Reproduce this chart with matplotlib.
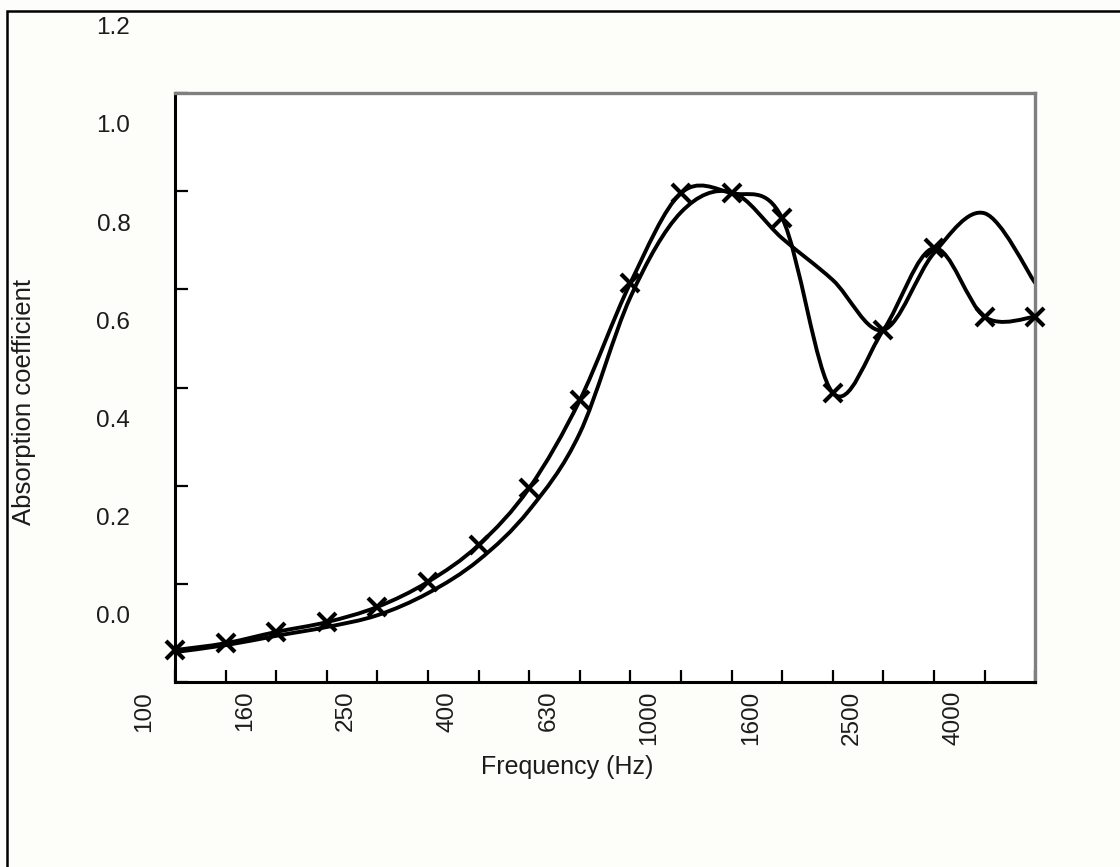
import numpy as np
import matplotlib
matplotlib.use("Agg")
import matplotlib.pyplot as plt
from matplotlib.path import Path
from matplotlib.patches import PathPatch, Rectangle
import matplotlib.transforms as mtransforms

plt.rcParams['font.family'] = ['Liberation Sans', 'DejaVu Sans']

# third-octave bands (Hz)
freqs = [100, 125, 160, 200, 250, 315, 400, 500, 630, 800,
         1000, 1250, 1600, 2000, 2500, 3150, 4000, 5000]
freq_labels = ['100', '160', '250', '400', '630', '1000', '1600', '2500', '4000']

# absorption coefficient
alpha_marked = [0.065, 0.079, 0.102, 0.122, 0.153, 0.204, 0.279, 0.395, 0.574,
                0.813, 0.996, 0.996, 0.945, 0.589, 0.717, 0.884, 0.744, 0.744]
alpha_plain = [0.061, 0.075, 0.094, 0.112, 0.136, 0.181, 0.248, 0.350, 0.507,
               0.784, 0.957, 0.998, 0.904, 0.819, 0.717, 0.874, 0.955, 0.813]

y_ticks = [0.0, 0.2, 0.4, 0.6, 0.8, 1.0, 1.2]
y_labels = ['0.0', '0.2', '0.4', '0.6', '0.8', '1.0', '1.2']


def smooth_path(xs, ys):
    # catmull-rom through the points, as bezier segments
    pts = np.column_stack([xs, ys]).astype(float)
    ext = np.vstack([pts[0], pts, pts[-1]])
    verts = [pts[0]]
    codes = [Path.MOVETO]
    for i in range(len(pts) - 1):
        p0, p1, p2, p3 = ext[i], ext[i + 1], ext[i + 2], ext[i + 3]
        c1 = p1 + (p2 - p0) / 6.0
        c2 = p2 - (p3 - p1) / 6.0
        verts += [c1, c2, p2]
        codes += [Path.CURVE4] * 3
    return Path(verts, codes)


bg = '#fdfdfa'
txt = '#1c1c1c'
fig = plt.figure(figsize=(11.2, 8.67), dpi=100, facecolor=bg)
ax = fig.add_axes([0.15625, 0.2134, 0.768, 0.6793], facecolor='white')

x = np.arange(len(freqs))

for series in (alpha_plain, alpha_marked):
    ax.add_patch(PathPatch(smooth_path(x, series), fill=False, lw=2.8,
                           edgecolor='black', capstyle='round', joinstyle='round'))
ax.plot(x, alpha_marked, linestyle='none', marker='x', ms=13, mew=3,
        color='black', clip_on=False, zorder=5)

ax.set_xlim(0, len(freqs) - 1)
ax.set_ylim(0, 1.2)

ax.set_xticks(x)
ax.set_xticklabels([])
ax.set_yticks(y_ticks)
ax.set_yticklabels([])
ax.tick_params(direction='in', length=9, width=1.6, color='black')

for s in ('left', 'bottom'):
    ax.spines[s].set_color('black')
    ax.spines[s].set_linewidth(2.2)
for s in ('top', 'right'):
    ax.spines[s].set_color('#7f7f7f')
    ax.spines[s].set_linewidth(2.4)

# labels sit offset from their ticks, as in the source image
xtr = ax.get_xaxis_transform()
for k, lab in enumerate(freq_labels):
    ax.text(2 * k - 0.62, -0.015, lab, transform=xtr, rotation=90,
            ha='center', va='top', fontsize=17.5, color=txt, clip_on=False)

ytr = mtransforms.blended_transform_factory(ax.transAxes, ax.transData)
for v, lab in zip(y_ticks, y_labels):
    ax.text(-0.052, v + 0.132, lab, transform=ytr, ha='right', va='center',
            fontsize=17.5, color=txt, clip_on=False)

fig.text(0.506, 0.115, 'Frequency (Hz)', ha='center', va='center',
         fontsize=18, color=txt)
fig.text(0.0215, 0.536, 'Absorption coefficient', rotation=90, ha='center',
         va='center', fontsize=18.5, color=txt)

# outer border of the original picture
fig.add_artist(Rectangle((7 / 1120, -0.1), 1.2, (856 / 867) + 0.1,
                         transform=fig.transFigure, fill=False,
                         edgecolor='black', lw=1.8))

fig.savefig('out.png', dpi=100, facecolor=bg)
